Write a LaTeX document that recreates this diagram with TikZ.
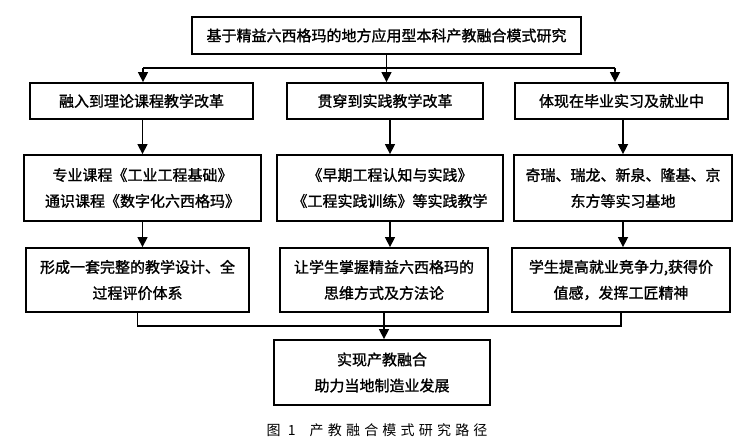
\documentclass[tikz,border=0pt]{standalone}
\usepackage{fontspec}
\newfontfamily\cjk{Noto Sans CJK SC}[FakeBold=1.3]
\newfontfamily\capfont{Noto Sans CJK SC}[LetterSpace=30]
\usetikzlibrary{arrows.meta}

\begin{document}
\begin{tikzpicture}[x=1pt, y=1pt,
  box/.style={rectangle, draw, line width=1.8pt, align=center, inner sep=0pt, font=\cjk\fontsize{15}{26}\selectfont},
  link/.style={line width=1.5pt},
  arr/.style={line width=1.5pt, -{Triangle[length=10pt, width=10pt]}}]
\useasboundingbox (0,0) rectangle (747,441);

% Research topic
\node[box, minimum width=389, minimum height=37] (top) at (386.5,405.5) {基于精益六西格玛的地方应用型本科产教融合模式研究};

% Three directions
\node[box, minimum width=223, minimum height=36] (r2a) at (141.5,340) {融入到理论课程教学改革};
\node[box, minimum width=196, minimum height=36] (r2b) at (385,340) {贯穿到实践教学改革};
\node[box, minimum width=213, minimum height=36] (r2c) at (621.5,340) {体现在毕业实习及就业中};

% Carriers
\node[box, minimum width=237, minimum height=66] (r3a) at (142.5,253) {专业课程《工业工程基础》\\通识课程《数字化六西格玛》};
\node[box, minimum width=226, minimum height=66] (r3b) at (390,253) {《早期工程认知与实践》\\《工程实践训练》等实践教学};
\node[box, minimum width=218, minimum height=66] (r3c) at (623,253) {奇瑞、瑞龙、新泉、隆基、京\\东方等实习基地};

% Results
\node[box, minimum width=223, minimum height=64] (r4a) at (137.5,161) {形成一套完整的教学设计、全\\过程评价体系};
\node[box, minimum width=208, minimum height=64] (r4b) at (384,161) {让学生掌握精益六西格玛的\\思维方式及方法论};
\node[box, minimum width=218, minimum height=64] (r4c) at (621,161) {学生提高就业竞争力,获得价\\值感，发挥工匠精神};

% Goal
\node[box, minimum width=216, minimum height=65] (goal) at (382,68.5) {实现产教融合\\助力当地制造业发展};

% Caption
\node[font=\capfont\fontsize{14}{18}\selectfont] (cap) at (377,11) {图 1\hspace{14pt}产教融合模式研究路径};

% Top bus
\coordinate (busL) at (143,373);
\coordinate (busR) at (615,373);
\draw[link] (top.south) -- (top.south |- busL);
\draw[link] (busL) -- (busR);
\draw[arr] (busL) -- (busL |- r2a.north);
\draw[arr] (top.south |- busL) -- (top.south |- r2b.north);
\draw[arr] (busR) -- (busR |- r2c.north);

% Column arrows
\draw[arr] (r2a.south -| r3a.north) -- (r3a.north);
\draw[arr] (r2b.south -| r3b.north) -- (r3b.north);
\draw[arr] (r2c.south -| r3c.north) -- (r3c.north);
\draw[arr] (r3a.south) -- (r3a.south |- r4a.north);
\draw[arr] (r3b.south) -- (r3b.south |- r4b.north);
\draw[arr] (r3c.south) -- (r3c.south |- r4c.north);

% Bottom bus
\coordinate (joinY) at (0,115);
\draw[link] (r4a.south) -- (r4a.south |- joinY) -- (r4c.south |- joinY) -- (r4c.south);
\draw[arr] (r4b.south) -- (r4b.south |- goal.north);
\end{tikzpicture}
\end{document}
